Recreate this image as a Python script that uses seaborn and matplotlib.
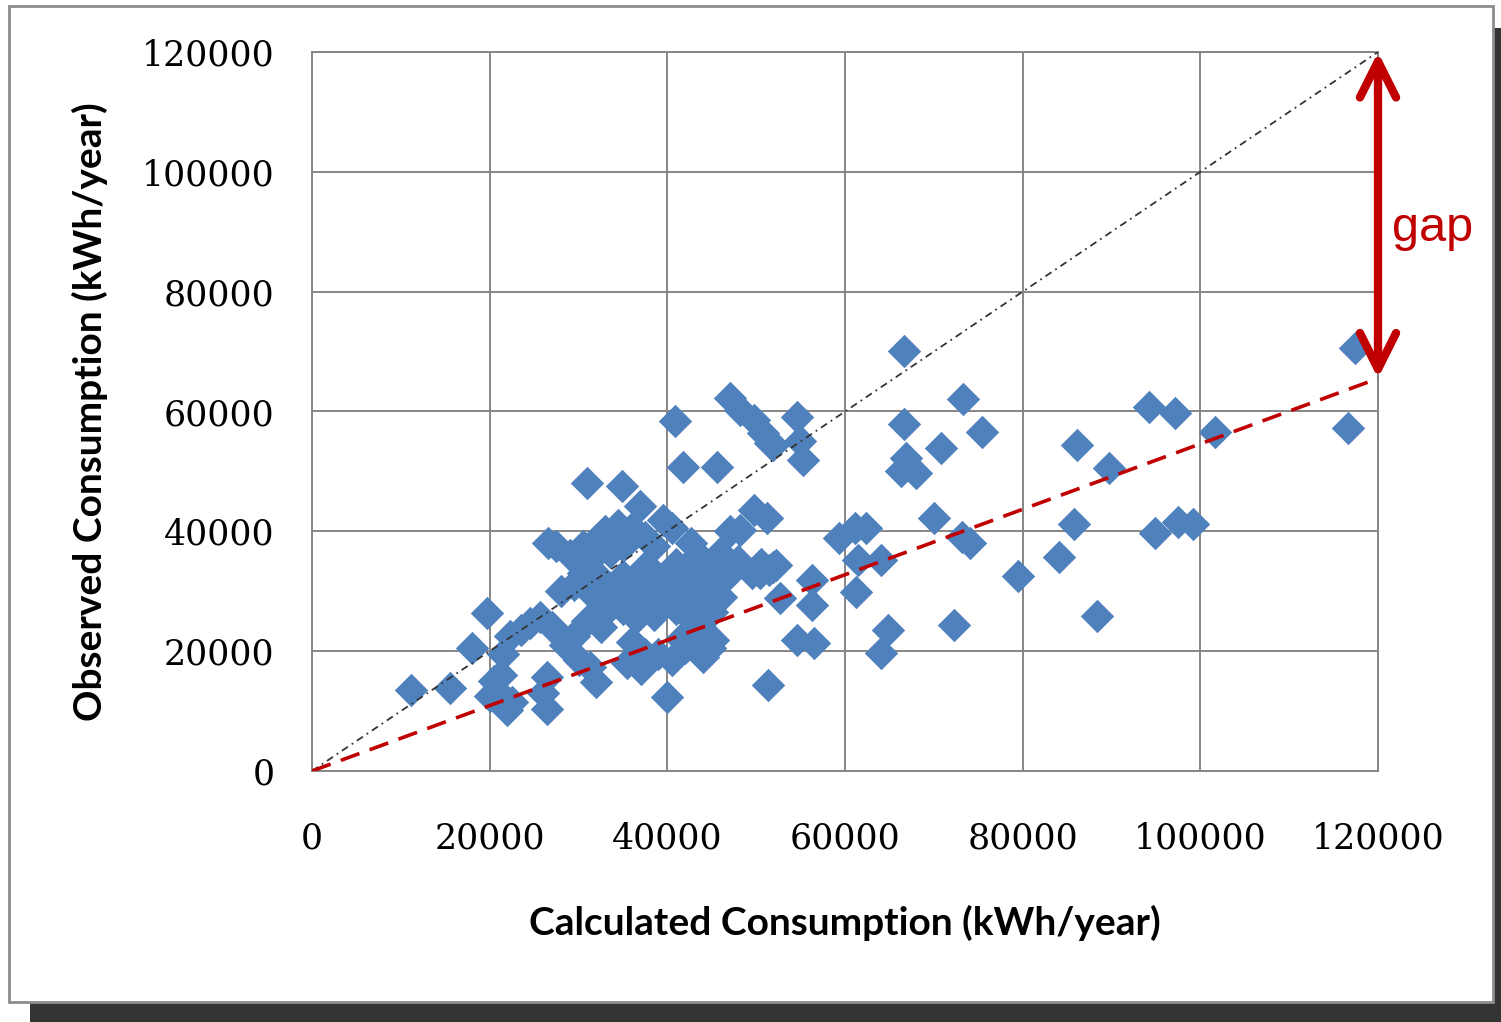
import seaborn as sns
import pandas as pd
import matplotlib.pyplot as plt
from matplotlib.patches import Rectangle

# calculated vs observed consumption, values in thousands of kWh/year
calc_k = [
    11.2, 15.5, 18.0, 19.7, 20.0, 20.5, 21.0, 21.3, 21.9, 22.5, 21.5, 22.3, 23.5, 24.5, 25.7,
    26.4, 26.0, 26.4, 32.0, 30.0, 31.3, 28.5, 27.0,
    26.6, 27.5, 29.0, 30.5, 31.0, 34.9, 36.9, 33.0, 34.5, 36.0, 37.5, 39.5, 38.5, 40.5, 32.0,
    35.0, 31.5,
    28.0, 29.5, 30.5, 31.5, 32.5, 33.5, 34.0, 35.0, 36.0, 37.0, 37.5, 38.5, 39.0, 40.0, 41.0,
    42.0, 42.7, 43.5, 44.0, 45.0, 46.0, 47.0, 48.0, 49.5, 50.5, 51.5,
    33.0, 35.0, 36.5, 37.0, 36.0, 37.5, 38.0, 41.0, 41.5, 42.5, 43.5, 44.0, 45.0, 46.0, 35.5,
    37.0, 39.0, 40.5, 42.0, 31.0, 29.5, 32.5, 40.0, 44.8, 45.1, 44.0, 45.9, 44.8, 50.4, 51.9,
    33.5, 40.0, 43.0, 36.5, 38.5,
    47.1, 48.2, 49.7, 51.2, 45.6, 41.8, 40.9, 47.1, 48.2, 49.7, 50.8, 51.6, 51.9, 54.6, 54.9,
    55.3, 52.2, 52.7, 56.3, 56.3, 54.6, 56.5, 51.3,
    59.3, 61.1, 62.4, 61.5, 64.1, 61.2, 64.8, 64.0, 66.6, 66.6, 66.3, 66.9, 68.0, 70.8, 70.0,
    73.3, 75.4, 73.2, 74.1, 72.3, 79.5, 84.1, 85.8, 86.1, 88.4, 89.7, 94.2, 97.2, 94.9, 97.5,
    99.2, 101.7, 117.4, 116.6,
]
obs_k = [
    13.5, 13.8, 20.5, 26.3, 12.5, 15.0, 13.0, 16.0, 10.2, 11.5, 19.5, 22.5, 23.5, 24.7, 25.7,
    15.7, 13.0, 10.3, 14.8, 18.5, 17.4, 21.0, 24.0,
    38.0, 37.5, 36.0, 37.5, 48.0, 47.6, 44.2, 40.0, 41.0, 40.5, 39.0, 41.9, 37.5, 40.5, 38.5,
    37.5, 35.5,
    30.0, 31.0, 33.0, 29.5, 32.0, 36.5, 30.5, 32.5, 29.0, 31.5, 34.0, 33.0, 30.0, 32.5, 34.5,
    31.0, 38.0, 36.0, 33.0, 31.5, 34.0, 33.0, 35.0, 33.0, 34.5, 33.5,
    26.5, 27.0, 25.5, 29.0, 21.5, 19.5, 27.5, 27.0, 22.0, 25.5, 28.5, 23.0, 26.5, 29.0, 18.0,
    17.0, 19.5, 18.5, 20.5, 25.0, 22.5, 24.0, 12.3, 20.5, 21.9, 19.0, 36.4, 34.0, 33.0, 34.1,
    29.0, 29.0, 33.5, 31.0, 26.0,
    40.0, 40.2, 43.6, 42.2, 50.8, 50.8, 58.4, 62.2, 60.3, 58.6, 56.4, 54.7, 54.4, 59.1, 55.0,
    51.9, 34.4, 28.9, 31.9, 27.7, 21.9, 21.4, 14.4,
    38.9, 40.6, 40.6, 35.2, 35.2, 29.9, 23.5, 19.7, 70.1, 57.9, 50.0, 52.2, 49.7, 53.9, 42.2,
    62.1, 56.6, 39.0, 38.0, 24.4, 32.6, 35.7, 41.3, 54.4, 25.8, 50.6, 60.7, 59.8, 39.7, 41.6,
    41.2, 56.6, 70.6, 57.2,
]

axis_max = 120000
axis_ticks = [0, 20000, 40000, 60000, 80000, 100000, 120000]
trend_slope = 0.546   # fitted line through origin, as drawn

df = pd.DataFrame({"calc": [v * 1000 for v in calc_k],
                   "obs": [v * 1000 for v in obs_k]})

sns.set_style("white")
grey = "#868686"
blue = "#4F81BD"
red = "#C00000"

fig = plt.figure(figsize=(15.01, 10.22), dpi=100)
ax = fig.add_axes([312 / 1501, 251 / 1022, 1066 / 1501, 719 / 1022])

# outer frame with a dark drop shadow
fig.patches.append(Rectangle((30 / 1501, 0), 1 - 30 / 1501, 1 - 28 / 1022,
                             transform=fig.transFigure, facecolor="#333333",
                             edgecolor="none", zorder=-20))
fig.patches.append(Rectangle((9 / 1501, 20 / 1022), 1484 / 1501, 996 / 1022,
                             transform=fig.transFigure, facecolor="white",
                             edgecolor="#8c8c8c", linewidth=2, zorder=-19))

sns.scatterplot(data=df, x="calc", y="obs", marker="D", s=290, color=blue,
                linewidth=0, ax=ax, zorder=2, legend=False)

# 1:1 line and trend line
ax.plot([0, axis_max], [0, axis_max], color="#333333", lw=1.3,
        linestyle=(0, (4, 2.5, 1, 2.5)), zorder=3)
ax.plot([0, axis_max], [0, trend_slope * axis_max], color=red, lw=2.6,
        linestyle=(0, (5.5, 3.0)), zorder=3)

# gap arrow
ax.annotate("", xy=(axis_max, axis_max), xytext=(axis_max, trend_slope * axis_max),
            arrowprops=dict(arrowstyle="<->,head_length=1.3,head_width=0.65",
                            color=red, lw=6, shrinkA=0, shrinkB=0,
                            mutation_scale=20, capstyle="round", joinstyle="round"),
            annotation_clip=False, zorder=5)
ax.text(121600, 90500, "gap", color=red, fontsize=35, family="Liberation Sans",
        va="center", ha="left", clip_on=False)

ax.set_xlim(0, axis_max)
ax.set_ylim(0, axis_max)
ax.set_xticks(axis_ticks)
ax.set_yticks(axis_ticks)
ax.set_xticklabels([str(t) for t in axis_ticks])
ax.set_yticklabels([str(t) for t in axis_ticks])
ax.grid(True, color=grey, lw=1.4)
ax.set_axisbelow(True)
for sp in ax.spines.values():
    sp.set_color(grey)
    sp.set_linewidth(1.4)

ax.tick_params(axis="both", direction="out", length=10, width=1.4, color=grey,
               labelsize=25, labelcolor="black")
ax.tick_params(axis="x", pad=26)
ax.tick_params(axis="y", pad=17)
for lab in ax.get_xticklabels() + ax.get_yticklabels():
    lab.set_family("DejaVu Serif")

ax.set_xlabel("Calculated Consumption (kWh/year)", fontsize=28, family="Lato",
              fontweight="bold", color="black", labelpad=36)
ax.set_ylabel("Observed Consumption (kWh/year)", fontsize=28, family="Lato",
              fontweight="bold", color="black", labelpad=24)

fig.savefig("out.png", dpi=100, facecolor="white")
